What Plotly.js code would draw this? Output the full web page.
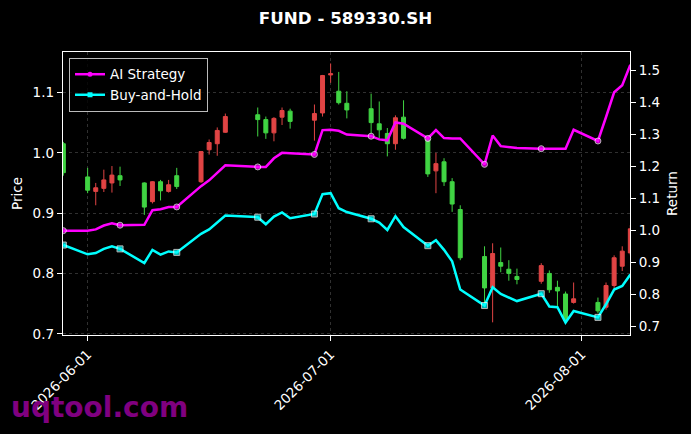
<!DOCTYPE html>
<html>
<head>
<meta charset="utf-8">
<script src="https://cdn.plot.ly/plotly-3.0.1.min.js"></script>
<style>
  html, body { margin: 0; padding: 0; background: #000; }
  #chart { width: 691px; height: 434px; }
</style>
</head>
<body>
<div id="chart"></div>
<script>
// trading days shown
const days = ['2026-05-29','2026-06-01','2026-06-02','2026-06-03','2026-06-04','2026-06-05',
  '2026-06-08','2026-06-09','2026-06-10','2026-06-11','2026-06-12',
  '2026-06-15','2026-06-16','2026-06-17','2026-06-18',
  '2026-06-22','2026-06-23','2026-06-24','2026-06-25','2026-06-26',
  '2026-06-29','2026-06-30','2026-07-01','2026-07-02','2026-07-03',
  '2026-07-06','2026-07-07','2026-07-08','2026-07-09','2026-07-10',
  '2026-07-13','2026-07-14','2026-07-15','2026-07-16','2026-07-17',
  '2026-07-20','2026-07-21','2026-07-22','2026-07-23','2026-07-24',
  '2026-07-27','2026-07-28','2026-07-29','2026-07-30','2026-07-31',
  '2026-08-03','2026-08-04','2026-08-05','2026-08-06','2026-08-07'];

// price candles
const openPx  = [1.015,0.960,0.936,0.941,0.950,0.962, 0.950,0.919,0.952,0.936,0.962, 0.952,1.005,1.015,1.034,
  1.063,1.055,1.033,1.059,1.069, 1.054,1.066,1.129,1.102,1.082, 1.073,1.048,1.032,1.015,1.059,
  1.023,0.970,0.985,0.952,0.906, 0.828,0.776,0.818,0.807,0.795, 0.787,0.800,0.777,0.766,0.752,
  0.752,0.744,0.780,0.812,0.834];
const highPx  = [1.018,0.975,0.950,0.972,0.978,0.977, 0.951,0.953,0.955,0.955,0.975, 1.003,1.022,1.042,1.065,
  1.075,1.060,1.059,1.075,1.073, 1.080,1.129,1.148,1.134,1.102, 1.098,1.085,1.041,1.062,1.087,
  1.024,1.000,0.991,0.958,0.913, 0.845,0.850,0.843,0.822,0.808, 0.817,0.805,0.788,0.770,0.785,
  0.760,0.785,0.830,0.845,0.880];
const lowPx   = [0.962,0.933,0.913,0.935,0.934,0.945, 0.897,0.916,0.921,0.934,0.940, 0.950,0.997,0.995,1.033,
  1.027,1.023,1.019,1.046,1.040, 1.020,1.060,1.116,1.080,1.057, 1.032,1.024,0.994,1.005,1.022,
  0.960,0.933,0.945,0.902,0.822, 0.750,0.719,0.802,0.788,0.782, 0.783,0.768,0.744,0.719,0.750,
  0.734,0.740,0.775,0.804,0.830];
const closePx = [0.967,0.938,0.942,0.955,0.963,0.955, 0.910,0.952,0.937,0.947,0.944, 1.002,1.017,1.037,1.060,
  1.055,1.033,1.057,1.070,1.052, 1.065,1.128,1.131,1.083,1.071, 1.050,1.038,1.015,1.058,1.024,
  0.965,0.982,0.952,0.915,0.826, 0.776,0.833,0.812,0.800,0.790, 0.813,0.773,0.771,0.722,0.758,
  0.738,0.780,0.826,0.837,0.874];

// cumulative returns
const aiStrategy = [1.000,1.000,1.004,1.016,1.023,1.017, 1.018,1.064,1.067,1.074,1.074, 1.139,1.157,1.180,1.204,
  1.199,1.199,1.226,1.243,1.242, 1.238,1.314,1.315,1.312,1.300, 1.295,1.285,1.282,1.338,1.334,
  1.288,1.314,1.289,1.288,1.288, 1.207,1.297,1.264,1.261,1.258, 1.256,1.256,1.256,1.256,1.315,
  1.280,1.355,1.432,1.454,1.518];
const buyHold = [0.955,0.926,0.930,0.943,0.951,0.943, 0.899,0.940,0.925,0.935,0.932, 0.990,1.004,1.024,1.047,
  1.042,1.020,1.044,1.057,1.039, 1.052,1.114,1.117,1.070,1.058, 1.037,1.025,1.002,1.045,1.011,
  0.953,0.970,0.940,0.904,0.816, 0.766,0.823,0.802,0.790,0.780, 0.803,0.763,0.761,0.713,0.749,
  0.729,0.770,0.816,0.827,0.863];

const tickDays = ['2026-06-01','2026-07-01','2026-08-01'];

const upColor = '#e04444';
const downColor = '#40d443';
const aiColor = '#ff00ff';
const bhColor = '#00ffff';
const font = 'DejaVu Sans';

// marker on every 5th point
const markEvery = days.map((d, i) => (i % 5 === 0 ? 6 : 0));

const candles = {
  type: 'candlestick',
  x: days, open: openPx, high: highPx, low: lowPx, close: closePx,
  increasing: {line: {color: upColor, width: 1}, fillcolor: upColor},
  decreasing: {line: {color: downColor, width: 1}, fillcolor: downColor},
  showlegend: false,
  yaxis: 'y'
};

const aiLine = {
  type: 'scatter', mode: 'lines+markers',
  x: days, y: aiStrategy, yaxis: 'y2',
  line: {color: aiColor, width: 2.5},
  marker: {color: aiColor, size: markEvery, symbol: 'circle'},
  showlegend: false
};

const bhLine = {
  type: 'scatter', mode: 'lines+markers',
  x: days, y: buyHold, yaxis: 'y2',
  line: {color: bhColor, width: 2.5},
  marker: {color: bhColor, size: markEvery, symbol: 'square'},
  showlegend: false
};

// legend entries only
const aiKey = {type: 'scatter', mode: 'lines+markers', x: [null], y: [null], yaxis: 'y2',
  name: 'AI Strategy', line: {color: aiColor, width: 2.5}, marker: {color: aiColor, size: 5, symbol: 'circle'}};
const bhKey = {type: 'scatter', mode: 'lines+markers', x: [null], y: [null], yaxis: 'y2',
  name: 'Buy-and-Hold', line: {color: bhColor, width: 2.5}, marker: {color: bhColor, size: 5, symbol: 'square'}};

const layout = {
  width: 691, height: 434,
  paper_bgcolor: '#000', plot_bgcolor: '#000',
  margin: {l: 63, r: 61, t: 52, b: 99},
  font: {family: font, color: '#fff', size: 13.5},
  title: {text: 'FUND - 589330.SH', font: {family: font, size: 16.7, color: '#fff', weight: 'bold'},
    x: 0.5, xref: 'container', y: 0.958, yanchor: 'middle'},
  xaxis: {
    type: 'date', range: ['2026-05-28 23:00', '2026-08-06 23:00'],
    tickvals: tickDays, ticktext: tickDays, tickangle: -45,
    showgrid: true, gridcolor: '#3c3c3c', griddash: '3px,3px', gridwidth: 0.8,
    showline: true, mirror: true, linecolor: '#fff', linewidth: 1.2,
    ticks: 'outside', ticklen: 5, tickcolor: '#fff',
    rangeslider: {visible: false}, zeroline: false
  },
  yaxis: {
    range: [0.698, 1.167], dtick: 0.1, tick0: 0.7, tickformat: '.1f',
    title: {text: 'Price', standoff: 6, font: {size: 13.5}},
    showgrid: true, gridcolor: '#3c3c3c', griddash: '3px,3px', gridwidth: 0.8,
    showline: true, mirror: true, linecolor: '#fff', linewidth: 1.2,
    ticks: 'outside', ticklen: 5, tickcolor: '#fff', zeroline: false
  },
  yaxis2: {
    overlaying: 'y', side: 'right',
    range: [0.674, 1.558], dtick: 0.1, tick0: 0.7, tickformat: '.1f',
    title: {text: 'Return', standoff: 8, font: {size: 13.5}},
    showgrid: false, zeroline: false,
    ticks: 'outside', ticklen: 5, tickcolor: '#fff'
  },
  legend: {
    x: 0.0106, y: 0.979, xanchor: 'left', yanchor: 'top',
    bgcolor: 'rgba(0,0,0,0.8)', bordercolor: '#bbbbbb', borderwidth: 1,
    font: {size: 13.5, color: '#fff'}
  },
  annotations: [{
    text: 'uqtool.com', xref: 'paper', yref: 'paper',
    x: -0.095, y: -0.255, xanchor: 'left', yanchor: 'middle', showarrow: false,
    font: {family: font, size: 28, color: '#800080', weight: 'bold'}
  }],
  showlegend: true
};

Plotly.newPlot('chart', [candles, aiLine, bhLine, aiKey, bhKey], layout, {staticPlot: true, displayModeBar: false});
</script>
</body>
</html>
